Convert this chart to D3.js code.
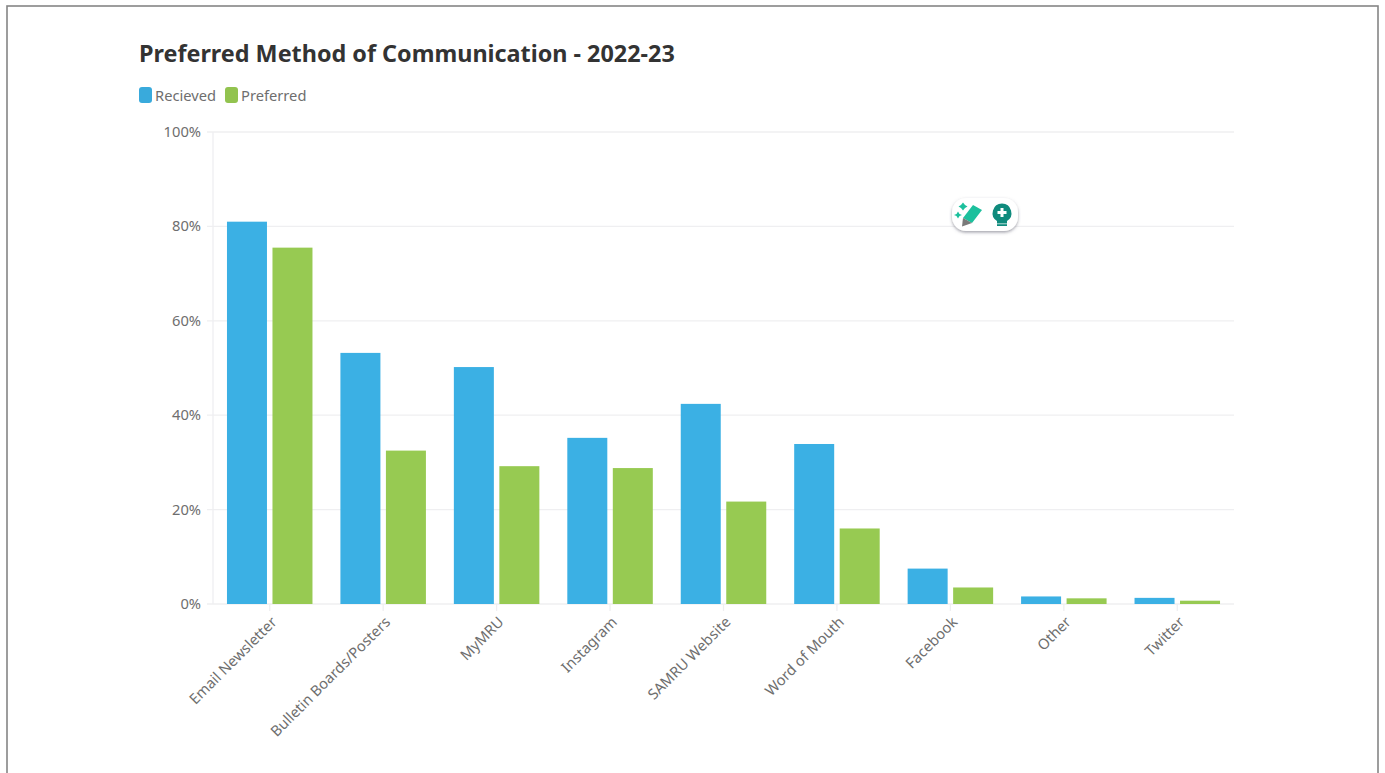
<!DOCTYPE html>
<html>
<head>
<meta charset="utf-8">
<script src="https://cdnjs.cloudflare.com/ajax/libs/d3/7.8.5/d3.min.js"></script>
<style>
  html, body { margin: 0; padding: 0; background: #fff; overflow: hidden; }
  text { font-family: "Noto Sans", "Open Sans", sans-serif; }
</style>
</head>
<body>
<div id="chart-area"></div>
<script>
let categories = ["Email Newsletter", "Bulletin Boards/Posters", "MyMRU", "Instagram", "SAMRU Website", "Word of Mouth", "Facebook", "Other", "Twitter"]
let recieved = [81, 53.2, 50.2, 35.2, 42.4, 33.9, 7.5, 1.6, 1.3]
let preferred = [75.5, 32.5, 29.2, 28.8, 21.7, 16, 3.5, 1.2, 0.7]
let seriesNames = ["Recieved", "Preferred"]
let yTicks = [0, 20, 40, 60, 80, 100]

let width = 1385
let height = 773
let plotLeft = 213, plotRight = 1234, plotTop = 132, plotBottom = 604

let svg = d3.select("#chart-area")
            .append('svg')
            .attr('width', width)
            .attr('height', height)
            .style('display', 'block')

// screenshot frame
svg.append('rect')
    .attr('x', 7).attr('y', 6)
    .attr('width', 1371).attr('height', 800)
    .attr('fill', 'none')
    .attr('stroke', '#858585')
    .attr('stroke-width', 1.6)

let xScale = d3.scaleBand()
                .domain(categories)
                .range([plotLeft, plotRight])

let yScale = d3.scaleLinear()
                .domain([0, 100])
                .range([plotBottom, plotTop])

let seriesScale = d3.scaleBand()
                .domain(seriesNames)
                .range([0, xScale.bandwidth()])
                .paddingInner(0.121)
                .paddingOuter(0.307)

let colors = d3.scaleOrdinal()
                .domain(seriesNames)
                .range(['#3bb0e4', '#97ca52'])

// gridlines
svg.append('g')
    .selectAll('line')
    .data(yTicks)
    .enter()
    .append('line')
    .attr('x1', plotLeft - 6)
    .attr('x2', plotRight)
    .attr('y1', d => yScale(d))
    .attr('y2', d => yScale(d))
    .attr('stroke', '#efeff1')
    .attr('stroke-width', 1.3)

svg.append('line')
    .attr('x1', plotLeft).attr('x2', plotLeft)
    .attr('y1', plotTop).attr('y2', plotBottom)
    .attr('stroke', '#efeff1')
    .attr('stroke-width', 1.3)

// y labels
svg.append('g')
    .selectAll('text')
    .data(yTicks)
    .enter()
    .append('text')
    .attr('x', plotLeft - 12)
    .attr('y', d => yScale(d) + 5)
    .attr('text-anchor', 'end')
    .attr('font-size', 14.7)
    .attr('fill', '#6e6e6e')
    .text(d => d + '%')

// x ticks and labels
let xAxis = svg.append('g')
xAxis.selectAll('line')
    .data(categories)
    .enter()
    .append('line')
    .attr('x1', d => xScale(d) + xScale.bandwidth() / 2)
    .attr('x2', d => xScale(d) + xScale.bandwidth() / 2)
    .attr('y1', plotBottom)
    .attr('y2', plotBottom + 7)
    .attr('stroke', '#efeff1')
    .attr('stroke-width', 1.3)

xAxis.selectAll('text')
    .data(categories)
    .enter()
    .append('text')
    .attr('text-anchor', 'end')
    .attr('font-size', 14.7)
    .attr('fill', '#6e6e6e')
    .attr('transform', d => `translate(${xScale(d) + xScale.bandwidth() / 2 + 8},${plotBottom + 19}) rotate(-45)`)
    .text(d => d)

// bars
let seriesValues = [recieved, preferred]
seriesNames.forEach((name, i) => {
    svg.append('g')
        .selectAll('rect')
        .data(seriesValues[i])
        .enter()
        .append('rect')
        .attr('x', (d, j) => xScale(categories[j]) + seriesScale(name))
        .attr('y', d => yScale(d))
        .attr('width', seriesScale.bandwidth())
        .attr('height', d => plotBottom - yScale(d))
        .attr('fill', colors(name))
})

// title
svg.append('text')
    .attr('x', 139)
    .attr('y', 62)
    .attr('font-size', 23.37)
    .attr('font-weight', 700)
    .attr('fill', '#333')
    .text('Preferred Method of Communication - 2022-23')

// legend
let legendX = [139, 225]
let legend = svg.append('g')
legend.selectAll('rect')
    .data(seriesNames)
    .enter()
    .append('rect')
    .attr('x', (d, i) => legendX[i])
    .attr('y', 87)
    .attr('width', 13)
    .attr('height', 16)
    .attr('rx', 3)
    .attr('fill', d => d3.color(colors(d)).darker(0.1))

legend.selectAll('text')
    .data(seriesNames)
    .enter()
    .append('text')
    .attr('x', (d, i) => legendX[i] + 16)
    .attr('y', 101)
    .attr('font-size', 14.7)
    .attr('fill', '#6e6e6e')
    .text(d => d)

// floating toolbar on top of the chart
let defs = svg.append('defs')
defs.append('filter').attr('id', 'shadow')
    .attr('x', '-20%').attr('y', '-30%').attr('width', '140%').attr('height', '170%')
    .append('feDropShadow')
    .attr('dx', 0).attr('dy', 1.5).attr('stdDeviation', 1.5)
    .attr('flood-color', '#556').attr('flood-opacity', 0.55)

let tool = svg.append('g').attr('transform', 'translate(952,198)')
tool.append('rect')
    .attr('width', 66).attr('height', 33).attr('rx', 14)
    .attr('fill', '#fff')
    .attr('filter', 'url(#shadow)')

// pencil
tool.append('path')
    .attr('d', 'M11 20 L21 7 L30 12 L20 25 Z')
    .attr('fill', '#1cc09d')
tool.append('path')
    .attr('d', 'M11 20 L20 25 L10 28.5 Z')
    .attr('fill', '#7a7a7a')
tool.append('path')
    .attr('d', 'M11 4.5 L13 7 L15.5 8.5 L13 10 L11 12.5 L9 10 L6.5 8.5 L9 7 Z')
    .attr('fill', '#1cc09d')
tool.append('path')
    .attr('d', 'M6 13.5 L7.5 16 L10 17 L7.5 18 L6 20.5 L4.5 18 L2 17 L4.5 16 Z')
    .attr('fill', '#1cc09d')

// bulb
tool.append('path')
    .attr('d', 'M50 5.5 a9.5 9.5 0 0 1 5 17.5 v2.5 h-10 v-2.5 a9.5 9.5 0 0 1 5 -17.5 Z')
    .attr('fill', '#0f8b7d')
tool.append('path')
    .attr('d', 'M48.5 10 h3 v3 h3 v3 h-3 v3 h-3 v-3 h-3 v-3 h3 Z')
    .attr('fill', '#fff')
tool.append('rect')
    .attr('x', 45).attr('y', 26.2).attr('width', 10).attr('height', 1.8).attr('fill', '#0f8b7d')
</script>
</body>
</html>
